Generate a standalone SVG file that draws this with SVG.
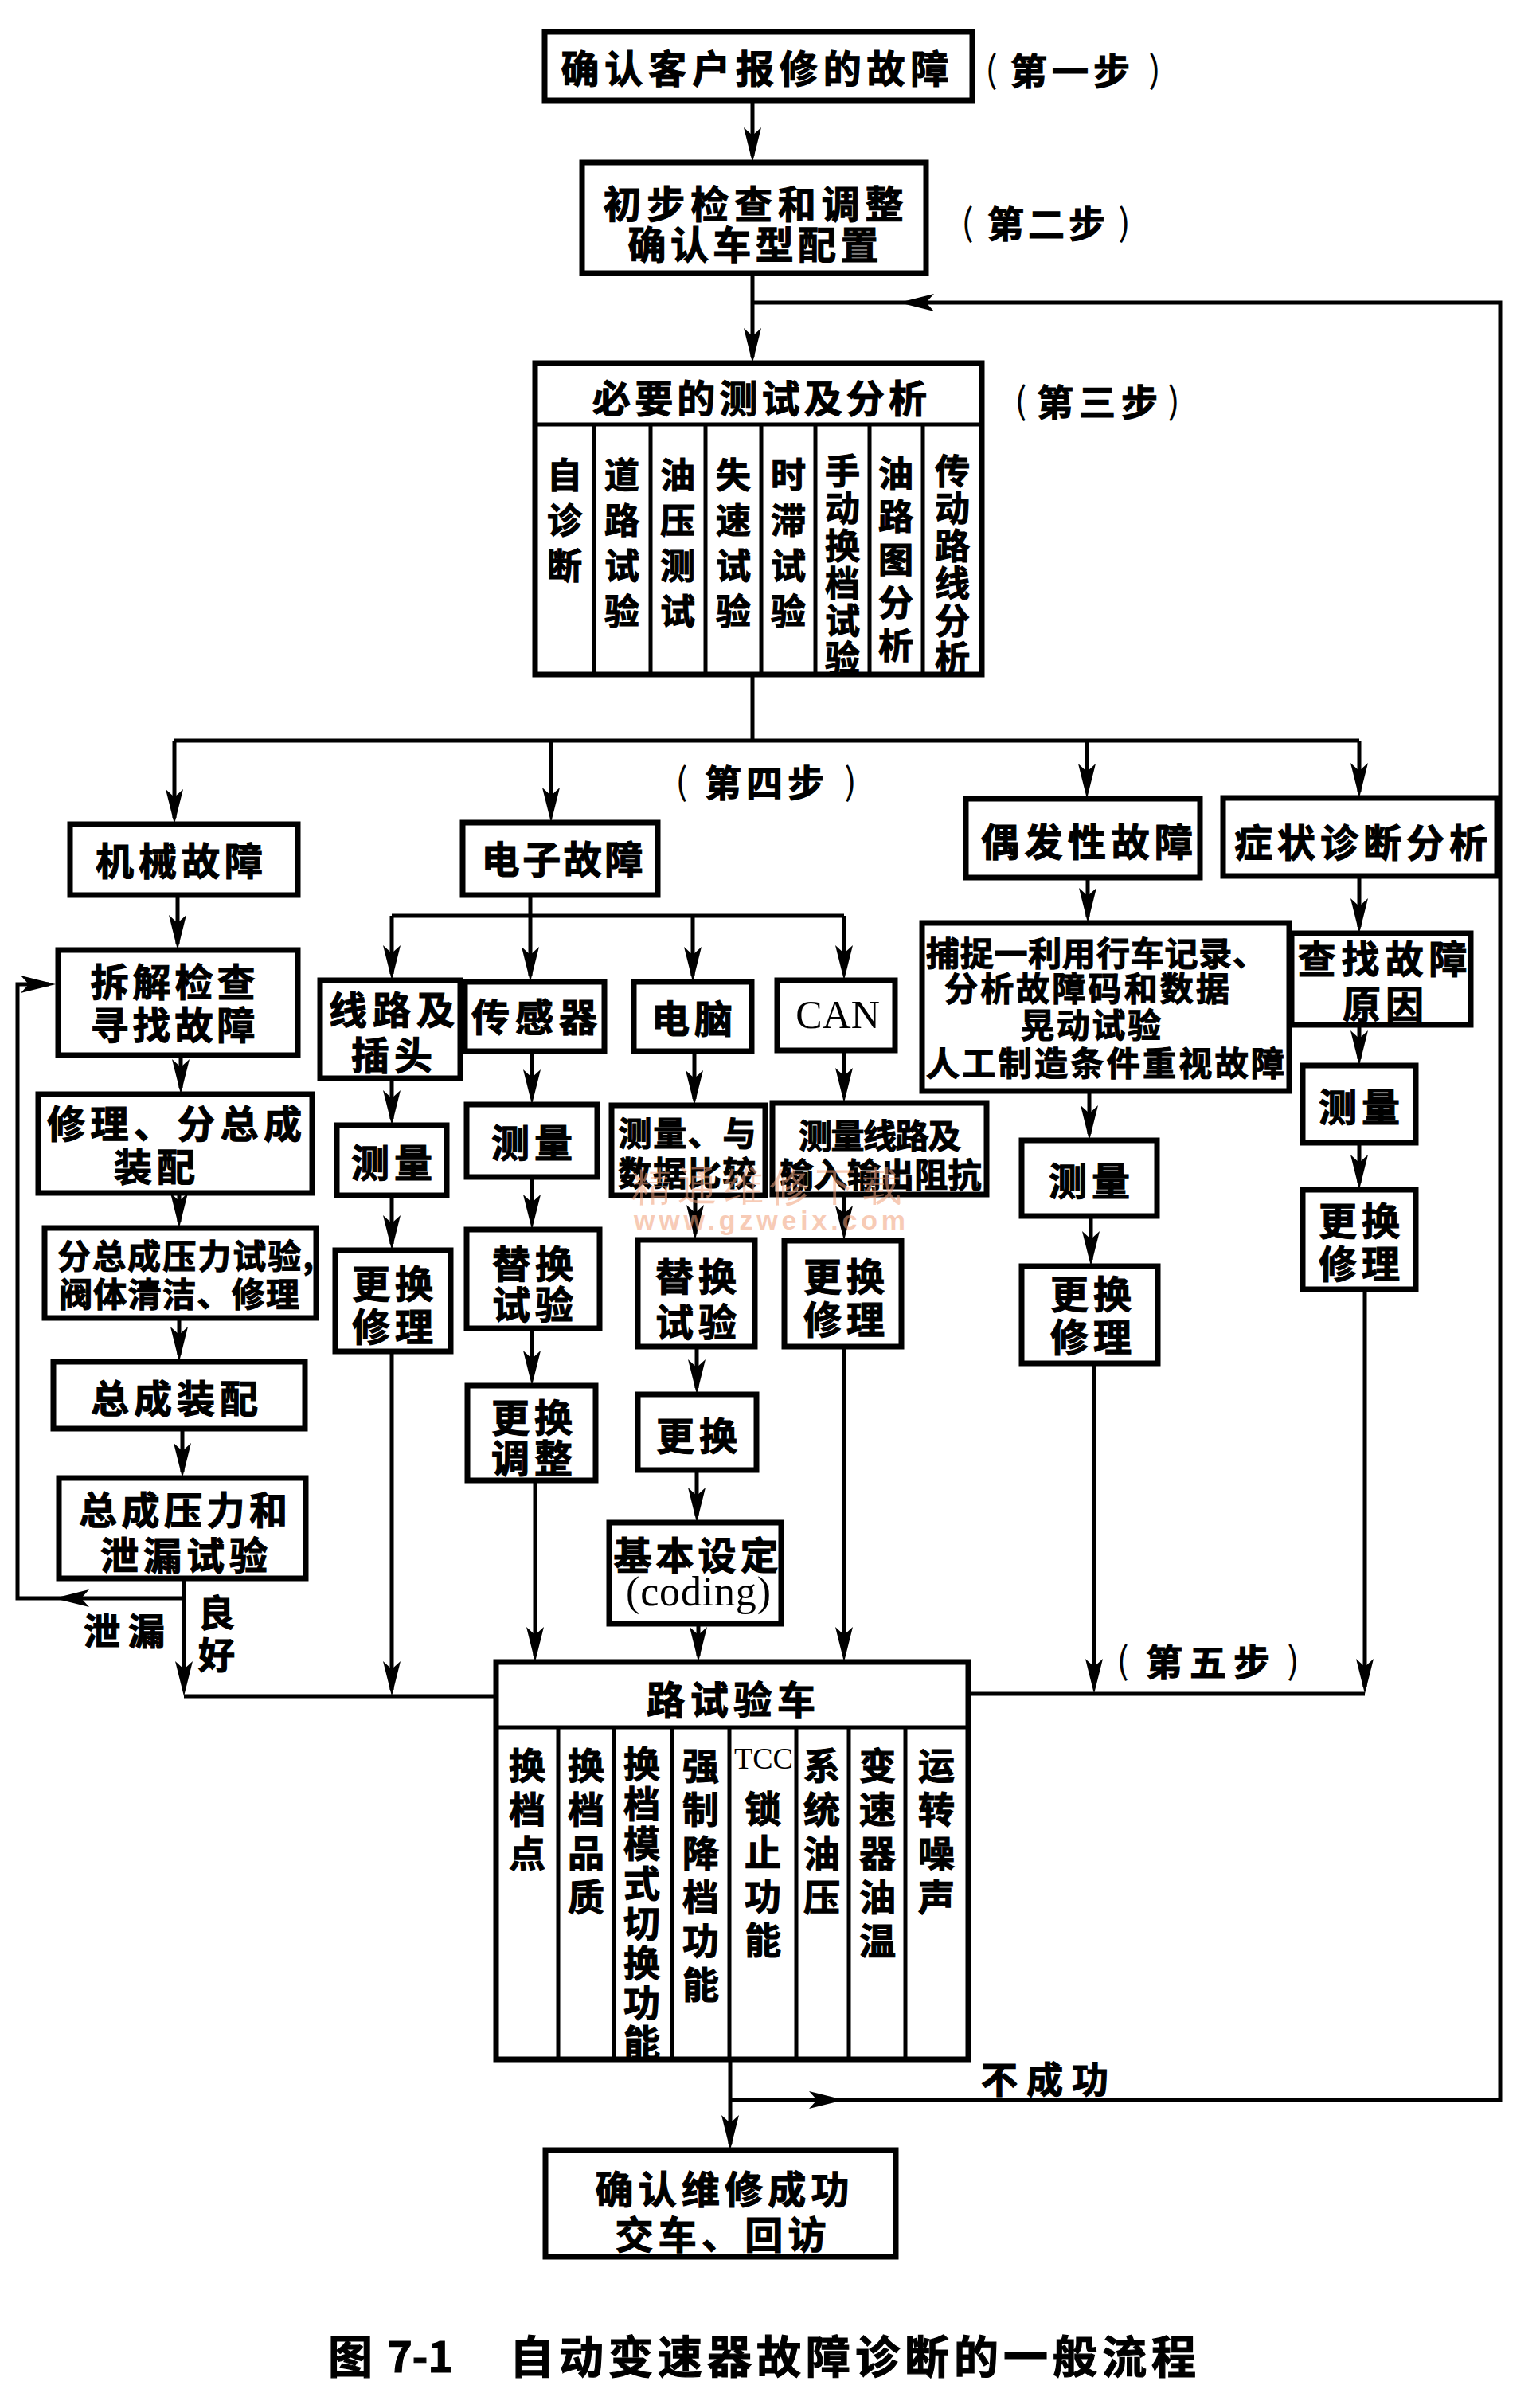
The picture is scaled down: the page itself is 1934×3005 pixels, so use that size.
<svg xmlns="http://www.w3.org/2000/svg" width="1934" height="3005" viewBox="0 0 1934 3005">
<style>
.b{fill:#fff;stroke:#000;stroke-width:7}
.d{fill:none;stroke:#000;stroke-width:5}
.c{fill:none;stroke:#000;stroke-width:5}
.a{fill:none;stroke:#000;stroke-width:5;marker-end:url(#ah)}
text{font-family:"Noto Sans CJK SC","Noto Sans CJK JP",sans-serif;font-weight:700;fill:#000;stroke:#000;stroke-width:1.2px;text-anchor:middle;dominant-baseline:central}
.t{font-size:48px}
.s{font-size:42px}
.v{font-size:44px}
.w{font-size:46px}
.st{font-size:46px}
.vt{writing-mode:vertical-rl;text-anchor:start}
.p{font-size:46px;font-weight:400;stroke:none}
.ser{font-family:"Liberation Serif","Times New Roman",serif;font-weight:400;stroke:none}
.l{text-anchor:start}
.wm{fill:#f2a27c;opacity:0.55;stroke:none}
</style>
<defs>
<marker id="ah" markerUnits="userSpaceOnUse" markerWidth="46" markerHeight="24" refX="36" refY="12" orient="auto">
<path d="M0,1 L44,12 L0,23 L10,12 Z" fill="#000"/>
</marker>
</defs>
<rect width="1934" height="3005" fill="#fff"/>

<g id="connectors">
<path class="a" d="M945,126 V196"/>
<path class="a" d="M945,343 V448"/>
<path class="a" d="M1052,2637 H1884 V380 H1137"/>
<path class="c" d="M1137,380 H945"/>
<path class="c" d="M945,847 V930 M219,930 H1707"/>
<path class="a" d="M219,930 V1027"/>
<path class="a" d="M692,930 V1025"/>
<path class="a" d="M1365,930 V995"/>
<path class="a" d="M1707,930 V994"/>
<path class="a" d="M223,1124 V1185"/>
<path class="a" d="M227,1325 V1366"/>
<path class="a" d="M225,1498 V1534"/>
<path class="a" d="M225,1655 V1702"/>
<path class="a" d="M229,1794 V1848"/>
<path class="a" d="M231,1982 V2122"/>
<path class="c" d="M231,2130 H623"/>
<path class="a" d="M231,2007 H76"/>
<path class="a" d="M76,2007 H22 V1236 H62"/>
<path class="c" d="M666,1124 V1150 M492,1150 H1060"/>
<path class="a" d="M492,1150 V1223"/>
<path class="a" d="M666,1150 V1225"/>
<path class="a" d="M870,1150 V1225"/>
<path class="a" d="M1060,1150 V1223"/>
<path class="a" d="M492,1354 V1405"/>
<path class="a" d="M492,1501 V1562"/>
<path class="a" d="M492,1697 V2122"/>
<path class="a" d="M668,1320 V1379"/>
<path class="a" d="M668,1478 V1536"/>
<path class="a" d="M668,1668 V1732"/>
<path class="a" d="M672,1859 V2079"/>
<path class="a" d="M872,1320 V1380"/>
<path class="a" d="M873,1501 V1549"/>
<path class="a" d="M875,1691 V1743"/>
<path class="a" d="M875,1846 V1904"/>
<path class="a" d="M877,2039 V2079"/>
<path class="a" d="M1060,1319 V1377"/>
<path class="a" d="M1060,1500 V1550"/>
<path class="a" d="M1060,1691 V2079"/>
<path class="a" d="M1366,1102 V1151"/>
<path class="a" d="M1368,1370 V1424"/>
<path class="a" d="M1370,1527 V1582"/>
<path class="a" d="M1374,1712 V2119"/>
<path class="a" d="M1707,1100 V1164"/>
<path class="a" d="M1707,1287 V1330"/>
<path class="a" d="M1707,1435 V1486"/>
<path class="a" d="M1714,1619 V2119"/>
<path class="c" d="M1216,2127 H1714"/>
<path class="a" d="M917,2586 V2692"/>
<path class="a" d="M917,2637 H1052"/>
</g>

<g id="labels">
<text class="p" x="1245" y="84">(</text><text class="st" x="1344" y="86" textLength="150">第一步</text><text class="p" x="1450" y="84">)</text>
<text class="p" x="1215" y="276">(</text><text class="st" x="1314" y="278" textLength="148">第二步</text><text class="p" x="1412" y="276">)</text>
<text class="p" x="1282" y="500">(</text><text class="st" x="1378" y="502" textLength="152">第三步</text><text class="p" x="1474" y="500">)</text>
<text class="p" x="856" y="978">(</text><text class="st" x="960" y="980" textLength="150">第四步</text><text class="p" x="1068" y="978">)</text>
<text class="p" x="1410" y="2082">(</text><text class="st" x="1517" y="2084" textLength="156">第五步</text><text class="p" x="1624" y="2082">)</text>
<text class="w" x="1312" y="2608" textLength="160">不成功</text>
<text class="w" x="156" y="2045" textLength="102">泄漏</text>
<text class="w vt" x="272" y="2002" letter-spacing="7">良好</text>
</g>

<g id="n1"><rect class="b" x="684" y="40" width="537" height="86"/>
<text class="t" x="948" y="83" textLength="487">确认客户报修的故障</text></g>

<g id="n2"><rect class="b" x="731" y="204" width="432" height="139"/>
<text class="t" x="946" y="253" textLength="377">初步检查和调整</text>
<text class="t" x="946" y="304" textLength="315">确认车型配置</text></g>

<g id="n3"><rect class="b" x="672" y="456" width="561" height="391"/>
<path class="d" d="M672,533 H1233 M746,533 V847 M817,533 V847 M886,533 V847 M956,533 V847 M1024,533 V847 M1092,533 V847 M1159,533 V847"/>
<text class="t" x="954" y="497" textLength="420">必要的测试及分析</text>
<text class="v vt" x="709" y="574" letter-spacing="13">自诊断</text>
<text class="v vt" x="781" y="574" letter-spacing="13">道路试验</text>
<text class="v vt" x="851" y="574" letter-spacing="13">油压测试</text>
<text class="v vt" x="921" y="574" letter-spacing="13">失速试验</text>
<text class="v vt" x="990" y="574" letter-spacing="13">时滞试验</text>
<text class="v vt" x="1058" y="569" letter-spacing="3">手动换档试验</text>
<text class="v vt" x="1125" y="572" letter-spacing="10">油路图分析</text>
<text class="v vt" x="1196" y="569" letter-spacing="3">传动路线分析</text>
</g>

<g id="m1"><rect class="b" x="88" y="1035" width="286" height="89"/>
<text class="t" x="225" y="1078" textLength="210">机械故障</text></g>
<g id="m2"><rect class="b" x="73" y="1193" width="301" height="132"/>
<text class="t" x="217" y="1230" textLength="207">拆解检查</text>
<text class="t" x="217" y="1284" textLength="207">寻找故障</text></g>
<g id="m3"><rect class="b" x="48" y="1374" width="344" height="124"/>
<text class="t" x="219" y="1408" textLength="320">修理、分总成</text>
<text class="t" x="194" y="1462" textLength="102">装配</text></g>
<g id="m4"><rect class="b" x="56" y="1542" width="341" height="113"/>
<text class="s" x="233" y="1574" textLength="322">分总成压力试验,</text>
<text class="s" x="225" y="1622" textLength="302">阀体清洁、修理</text></g>
<g id="m5"><rect class="b" x="67" y="1710" width="316" height="84"/>
<text class="t" x="219" y="1753" textLength="210">总成装配</text></g>
<g id="m6"><rect class="b" x="74" y="1856" width="310" height="126"/>
<text class="t" x="230" y="1893" textLength="262">总成压力和</text>
<text class="t" x="231" y="1950" textLength="210">泄漏试验</text></g>

<g id="e0"><rect class="b" x="581" y="1033" width="245" height="91"/>
<text class="t" x="706" y="1076" textLength="203">电子故障</text></g>
<g id="e1"><rect class="b" x="402" y="1231" width="176" height="123"/>
<text class="t" x="492" y="1265" textLength="158">线路及</text>
<text class="t" x="492" y="1322" textLength="102">插头</text></g>
<g id="e2"><rect class="b" x="423" y="1413" width="138" height="88"/>
<text class="t" x="492" y="1457" textLength="102">测量</text></g>
<g id="e3"><rect class="b" x="421" y="1570" width="145" height="127"/>
<text class="t" x="493" y="1609" textLength="102">更换</text>
<text class="t" x="493" y="1663" textLength="102">修理</text></g>

<g id="s1"><rect class="b" x="584" y="1233" width="175" height="87"/>
<text class="t" x="671" y="1274" textLength="158">传感器</text></g>
<g id="s2"><rect class="b" x="586" y="1387" width="164" height="91"/>
<text class="t" x="668" y="1432" textLength="102">测量</text></g>
<g id="s3"><rect class="b" x="586" y="1544" width="167" height="124"/>
<text class="t" x="669" y="1584" textLength="102">替换</text>
<text class="t" x="669" y="1635" textLength="102">试验</text></g>
<g id="s4"><rect class="b" x="587" y="1740" width="161" height="119"/>
<text class="t" x="668" y="1777" textLength="102">更换</text>
<text class="t" x="668" y="1828" textLength="102">调整</text></g>

<g id="p1"><rect class="b" x="796" y="1233" width="148" height="87"/>
<text class="t" x="869" y="1276" textLength="102">电脑</text></g>
<g id="p2"><rect class="b" x="768" y="1388" width="193" height="113"/>
<text class="s" x="863" y="1420" textLength="173">测量、与</text>
<text class="s" x="863" y="1470" textLength="173">数据比较</text></g>
<g id="p3"><rect class="b" x="801" y="1557" width="147" height="134"/>
<text class="t" x="874" y="1600" textLength="102">替换</text>
<text class="t" x="874" y="1657" textLength="102">试验</text></g>
<g id="p4"><rect class="b" x="801" y="1751" width="149" height="95"/>
<text class="t" x="875" y="1800" textLength="102">更换</text></g>
<g id="p5"><rect class="b" x="765" y="1912" width="216" height="127"/>
<text class="t" x="874" y="1950" textLength="207">基本设定</text>
<text class="ser" x="877" y="1998" font-size="52" textLength="182">(coding)</text></g>

<g id="k1"><rect class="b" x="976" y="1231" width="148" height="88"/>
<text class="ser" x="1052" y="1274" font-size="50">CAN</text></g>
<g id="k2"><rect class="b" x="970" y="1385" width="269" height="115"/>
<text class="s" x="1105" y="1423" textLength="204">测量线路及</text>
<text class="s" x="1106" y="1472" textLength="253">输入输出阻抗</text></g>
<g id="k3"><rect class="b" x="985" y="1558" width="147" height="133"/>
<text class="t" x="1060" y="1600" textLength="102">更换</text>
<text class="t" x="1060" y="1654" textLength="102">修理</text></g>

<g id="o0"><rect class="b" x="1213" y="1003" width="294" height="99"/>
<text class="t" x="1365" y="1054" textLength="266">偶发性故障</text></g>
<g id="o1"><rect class="b" x="1158" y="1159" width="461" height="211"/>
<text class="s l" x="1163" y="1194" textLength="427">捕捉一利用行车记录、</text>
<text class="s l" x="1186" y="1238" textLength="358">分析故障码和数据</text>
<text class="s l" x="1282" y="1284" textLength="176">晃动试验</text>
<text class="s l" x="1163" y="1332" textLength="450">人工制造条件重视故障</text></g>
<g id="o2"><rect class="b" x="1283" y="1432" width="170" height="95"/>
<text class="t" x="1368" y="1480" textLength="102">测量</text></g>
<g id="o3"><rect class="b" x="1283" y="1590" width="171" height="122"/>
<text class="t" x="1370" y="1622" textLength="102">更换</text>
<text class="t" x="1370" y="1676" textLength="102">修理</text></g>

<g id="z0"><rect class="b" x="1536" y="1002" width="344" height="98"/>
<text class="t" x="1709" y="1055" textLength="318">症状诊断分析</text></g>
<g id="z1"><rect class="b" x="1622" y="1172" width="225" height="115"/>
<text class="t" x="1736" y="1201" textLength="213">查找故障</text>
<text class="t" x="1737" y="1258" textLength="102">原因</text></g>
<g id="z2"><rect class="b" x="1636" y="1338" width="142" height="97"/>
<text class="t" x="1707" y="1387" textLength="102">测量</text></g>
<g id="z3"><rect class="b" x="1636" y="1494" width="142" height="125"/>
<text class="t" x="1707" y="1530" textLength="102">更换</text>
<text class="t" x="1707" y="1584" textLength="102">修理</text></g>

<g id="r"><rect class="b" x="623" y="2087" width="593" height="499"/>
<path class="d" d="M623,2169 H1216 M701,2169 V2586 M771,2169 V2586 M844,2169 V2586 M916,2169 V2586 M1000,2169 V2586 M1066,2169 V2586 M1137,2169 V2586"/>
<text class="t" x="918" y="2131" textLength="212">路试验车</text>
<text class="w vt" x="662" y="2194" letter-spacing="9">换档点</text>
<text class="w vt" x="736" y="2194" letter-spacing="9">换档品质</text>
<text class="w vt" x="806" y="2192" letter-spacing="4">换档模式切换功能</text>
<text class="w vt" x="880" y="2194" letter-spacing="9">强制降档功能</text>
<text class="ser" x="959" y="2208" font-size="38">TCC</text>
<text class="w vt" x="958" y="2248" letter-spacing="9">锁止功能</text>
<text class="w vt" x="1032" y="2194" letter-spacing="9">系统油压</text>
<text class="w vt" x="1102" y="2194" letter-spacing="9">变速器油温</text>
<text class="w vt" x="1176" y="2194" letter-spacing="9">运转噪声</text>
</g>

<g id="f"><rect class="b" x="685" y="2700" width="440" height="134"/>
<text class="t" x="907" y="2746" textLength="319">确认维修成功</text>
<text class="t" x="905" y="2803" textLength="265">交车、回访</text></g>

<g id="caption">
<text x="412" y="2955" font-size="56" class="l">图</text>
<text x="486" y="2955" font-size="54" class="l" textLength="83">7-1</text>
<text x="640" y="2955" font-size="56" class="l" textLength="862">自动变速器故障诊断的一般流程</text>
</g>

<g id="watermark">
<text class="wm ser l" x="793" y="1490" font-size="50" font-weight="700" textLength="340">精通维修下载</text>
<text class="wm l" x="796" y="1532" font-size="34" textLength="341" style="font-family:'Liberation Sans',sans-serif;font-weight:700">www.gzweix.com</text>
</g>
</svg>
